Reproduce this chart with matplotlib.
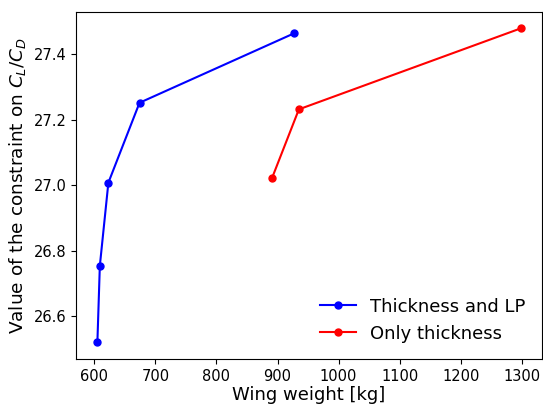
import numpy as np
import matplotlib
matplotlib.use("Agg")
import matplotlib.pyplot as plt

# wing weight [kg] vs value of the CL/CD constraint
lp_weight = [605, 609, 623, 674, 927]
lp_clcd = [26.521, 26.754, 27.008, 27.252, 27.464]

thk_weight = [891, 935, 1298]
thk_clcd = [27.022, 27.232, 27.479]

fig = plt.figure(figsize=(5.43, 4.05), dpi=100)
ax = fig.add_axes([0.140, 0.114, 0.858, 0.857])

ax.plot(lp_weight, lp_clcd, '-o', color='blue', markersize=5, label='Thickness and LP')
ax.plot(thk_weight, thk_clcd, '-o', color='red', markersize=5, label='Only thickness')

ax.set_xlabel('Wing weight [kg]', fontsize=13, labelpad=2)
ax.set_ylabel('Value of the constraint on $C_L/C_D$', fontsize=13.3)
ax.set_xticks(np.arange(600, 1301, 100))
ax.set_yticks([26.6, 26.8, 27.0, 27.2, 27.4])
ax.tick_params(labelsize=10.5)
ax.set_xlim(570, 1333)
ax.set_ylim(26.47, 27.53)

ax.legend(fontsize=13, frameon=False, loc='lower right')

fig.savefig('out.png', dpi=100)
